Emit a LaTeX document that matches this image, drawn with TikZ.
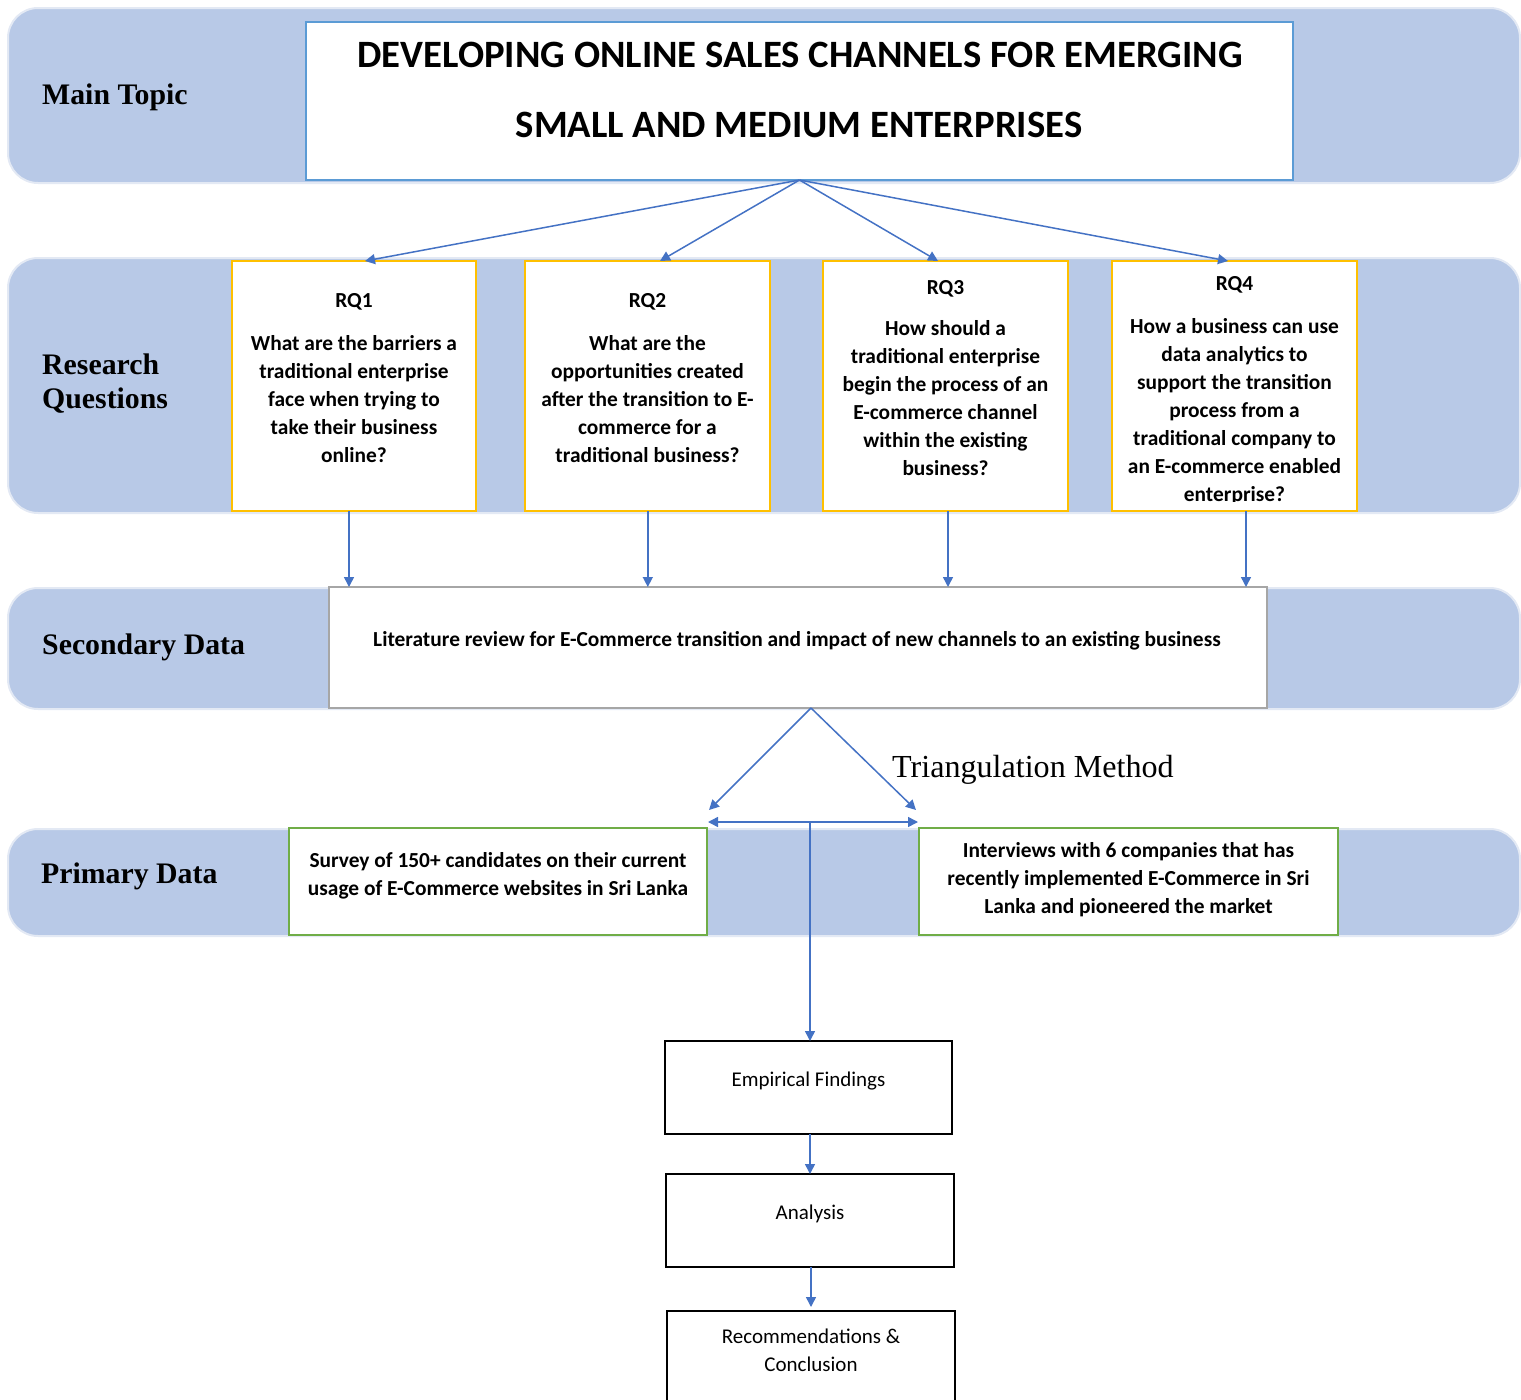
\documentclass[tikz,border=0pt]{standalone}
\usepackage{fontspec}
\setmainfont{Carlito}
\newfontfamily\tnr{Liberation Serif}
\usetikzlibrary{arrows.meta,calc}
\definecolor{bandblue}{HTML}{B8C9E7}
\definecolor{bandedge}{HTML}{E3E9F4}
\definecolor{arrowblue}{HTML}{4472C4}
\definecolor{titleedge}{HTML}{5B9BD5}
\definecolor{rqedge}{HTML}{FFC000}
\definecolor{litedge}{HTML}{A6A6A6}
\definecolor{primedge}{HTML}{70AD47}
\tikzset{
  band/.style={rectangle, rounded corners=30pt, fill=bandblue, draw=bandedge, line width=2pt, inner sep=0pt, outer sep=0pt},
  box/.style={rectangle, fill=white, inner sep=0pt, outer sep=0pt, line width=2pt},
  titlebox/.style={box, draw=titleedge, line width=1.6pt},
  rqbox/.style={box, draw=rqedge},
  litbox/.style={box, draw=litedge},
  primbox/.style={box, draw=primedge},
  stagebox/.style={box, draw=black},
  rowlabel/.style={inner sep=0pt, anchor=base west, font=\tnr\bfseries\fontsize{29.8}{34}\selectfont},
  boldtext/.style={inner sep=0pt, align=center, font=\bfseries\fontsize{21.4}{28}\selectfont},
  plaintext/.style={inner sep=0pt, align=center, font=\fontsize{21}{28}\selectfont},
  arr/.style={draw=arrowblue, line width=1.5pt, -{Triangle[length=10pt,width=10pt]}},
  arrboth/.style={draw=arrowblue, line width=1.5pt, {Triangle[length=10pt,width=10pt]}-{Triangle[length=10pt,width=10pt]}}
}
\begin{document}
\begin{tikzpicture}[x=1pt, y=-1pt]
\useasboundingbox (0,0) rectangle (1521,1400);

% row bands
\node[band, minimum width=1512pt, minimum height=175pt] (band1) at (764,95.5) {};
\node[band, minimum width=1512pt, minimum height=255pt] (band2) at (764,385.5) {};
\node[band, minimum width=1512pt, minimum height=121pt] (band3) at (764,648.5) {};
\node[band, minimum width=1512pt, minimum height=107pt] (band4) at (764,882.5) {};

% row labels
\node[rowlabel] (lmain) at (42,104) {Main Topic};
\node[rowlabel] (lres1) at (42,374) {Research};
\node[rowlabel] (lres2) at (42,408) {Questions};
\node[rowlabel] (lsec) at (42,654) {Secondary Data};
\node[rowlabel] (lprim) at (41,883) {Primary Data};

% main topic
\node[titlebox, minimum width=987pt, minimum height=158pt] (title) at (799.5,101) {};
\node[inner sep=0pt, font=\bfseries\fontsize{38.7}{40}\selectfont] (t1) at (800,55) {DEVELOPING ONLINE SALES CHANNELS FOR EMERGING};
\node[inner sep=0pt, font=\bfseries\fontsize{38.7}{40}\selectfont] (t2) at (799,125) {SMALL AND MEDIUM ENTERPRISES};

% research questions
\node[rqbox, minimum width=244pt, minimum height=250pt] (rq1) at (354,386) {};
\node[rqbox, minimum width=245pt, minimum height=250pt] (rq2) at (647.5,386) {};
\node[rqbox, minimum width=245pt, minimum height=250pt] (rq3) at (945.5,386) {};
\node[rqbox, minimum width=245pt, minimum height=250pt] (rq4) at (1234.5,386) {};

\node[boldtext, anchor=north] (q1) at (354,293) {RQ1\\[15pt]What are the barriers a\\traditional enterprise\\face when trying to\\take their business\\online?};
\node[boldtext, anchor=north] (q2) at (647.5,293) {RQ2\\[15pt]What are the\\opportunities created\\after the transition to E-\\commerce for a\\traditional business?};
\node[boldtext, anchor=north] (q3) at (945.5,280) {RQ3\\[13pt]How should a\\traditional enterprise\\begin the process of an\\E-commerce channel\\within the existing\\business?};
\begin{scope}
  \clip (1112,261) rectangle (1357,501);
  \node[boldtext, anchor=north] (q4) at (1234.5,276) {RQ4\\[15pt]How a business can use\\data analytics to\\support the transition\\process from a\\traditional company to\\an E-commerce enabled\\enterprise?};
\end{scope}

% secondary data
\node[litbox, minimum width=938pt, minimum height=121pt] (lit) at (798,647.5) {};
\node[inner sep=0pt, anchor=base, font=\bfseries\fontsize{21.4}{24}\selectfont] (littext) at (797,646) {Literature review for E-Commerce transition and impact of new channels to an existing business};

% primary data
\node[primbox, minimum width=418pt, minimum height=107pt] (survey) at (498,881.5) {};
\node[primbox, minimum width=419pt, minimum height=107pt] (interv) at (1128.5,881.5) {};
\node[boldtext, anchor=north] (stext) at (498,852) {Survey of 150+ candidates on their current\\usage of E-Commerce websites in Sri Lanka};
\node[boldtext, anchor=north] (itext) at (1128.5,842) {Interviews with 6 companies that has\\recently implemented E-Commerce in Sri\\Lanka and pioneered the market};

% triangulation
\node[inner sep=0pt, anchor=base west, font=\tnr\fontsize{32.1}{34}\selectfont] (tri) at (892,777) {Triangulation Method};

% findings chain
\node[stagebox, minimum width=287pt, minimum height=93pt] (emp) at (808.5,1087.5) {};
\node[stagebox, minimum width=288pt, minimum height=93pt] (ana) at (810,1220.5) {};
\node[stagebox, minimum width=288pt, minimum height=119pt] (rec) at (811,1370.5) {};
\node[plaintext, anchor=base] (emptext) at (808.5,1086) {Empirical Findings};
\node[plaintext, anchor=base] (anatext) at (810,1219) {Analysis};
\node[plaintext, anchor=north] (rectext) at (811,1329) {Recommendations \&\\Conclusion};

% connectors: topic to questions
\draw[arr] (title.south) -- ($(rq1.north)+(11,0)$);
\draw[arr] (title.south) -- ($(rq2.north)+(12.5,0)$);
\draw[arr] (title.south) -- ($(rq3.north)+(-7.5,0)$);
\draw[arr] (title.south) -- ($(rq4.north)+(-6.5,0)$);

% connectors: questions to literature review
\draw[arr] ($(rq1.south)+(-5,0)$) coordinate (d1) -- (d1 |- lit.north);
\draw[arr] ($(rq2.south)+(0.3,0)$) coordinate (d2) -- (d2 |- lit.north);
\draw[arr] ($(rq3.south)+(2.5,0)$) coordinate (d3) -- (d3 |- lit.north);
\draw[arr] ($(rq4.south)+(11.5,0)$) coordinate (d4) -- (d4 |- lit.north);

% triangulation arrows
\coordinate (apex) at ($(lit.south)+(13,0)$);
\coordinate (tl) at (709,810);
\coordinate (tr) at (916,810);
\coordinate (hl) at (708,822);
\coordinate (hr) at (918,822);
\coordinate (hm) at (810,822);
\draw[arr] (apex) -- (tl);
\draw[arr] (apex) -- (tr);
\draw[arrboth] (hl) -- (hr);
\draw[arr] (hm) -- (hm |- emp.north);

% findings chain arrows
\draw[arr] ($(emp.south)+(1.5,0)$) coordinate (e1) -- (e1 |- ana.north);
\draw[arr, shorten >=4pt] ($(ana.south)+(1,0)$) coordinate (e2) -- (e2 |- rec.north);
\end{tikzpicture}
\end{document}
